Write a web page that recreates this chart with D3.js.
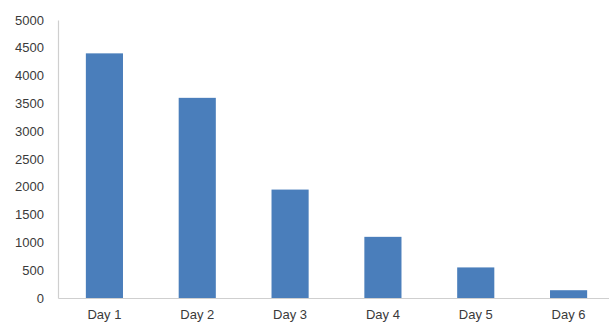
<!DOCTYPE html>
<html>
<head>
<meta charset="utf-8">
<script src="https://cdn.jsdelivr.net/npm/d3@7"></script>
<style>
  html, body { margin: 0; padding: 0; background: #fff; }
  svg { display: block; }
</style>
</head>
<body>
<svg id="chart" width="609" height="324"></svg>
<script>
// Daily counts
const categories = ["Day 1", "Day 2", "Day 3", "Day 4", "Day 5", "Day 6"];
const values = [4400, 3600, 1950, 1100, 550, 140];
const yTicks = [0, 500, 1000, 1500, 2000, 2500, 3000, 3500, 4000, 4500, 5000];

(function () {
  const svg = d3.select("#chart");
  const plotLeft = 58, plotBase = 298, plotTop = 20, plotRight = 615;

  const x = d3.scaleBand().domain(categories).range([plotLeft, plotRight])
    .paddingInner(0.6).paddingOuter(0.3);
  const y = d3.scaleLinear().domain([0, 5000]).range([plotBase, plotTop]);

  const font = "'Liberation Sans', Arial, sans-serif";

  // Bars
  svg.append("g").selectAll("rect").data(values).join("rect")
    .attr("x", (d, i) => x(categories[i]))
    .attr("width", x.bandwidth())
    .attr("y", d => y(d))
    .attr("height", d => y(0) - y(d))
    .attr("fill", "#4a7ebb");

  // Y axis
  const yAxis = svg.append("g").attr("transform", `translate(${plotLeft},0)`)
    .call(d3.axisLeft(y).tickValues(yTicks).tickFormat(d3.format("d")).tickSize(0).tickPadding(14));
  yAxis.select(".domain").attr("stroke", "#cfcfcf").attr("stroke-width", 1.2);
  yAxis.selectAll("text").attr("font-family", font).attr("font-size", 13).attr("fill", "#3a3a3a");

  // X axis
  const xAxis = svg.append("g").attr("transform", `translate(0,${plotBase})`)
    .call(d3.axisBottom(x).tickSize(0).tickPadding(12));
  xAxis.select(".domain").attr("stroke", "#cfcfcf").attr("stroke-width", 1.2);
  xAxis.selectAll("text").attr("font-family", font).attr("font-size", 13).attr("fill", "#3a3a3a");
})();
</script>
</body>
</html>
